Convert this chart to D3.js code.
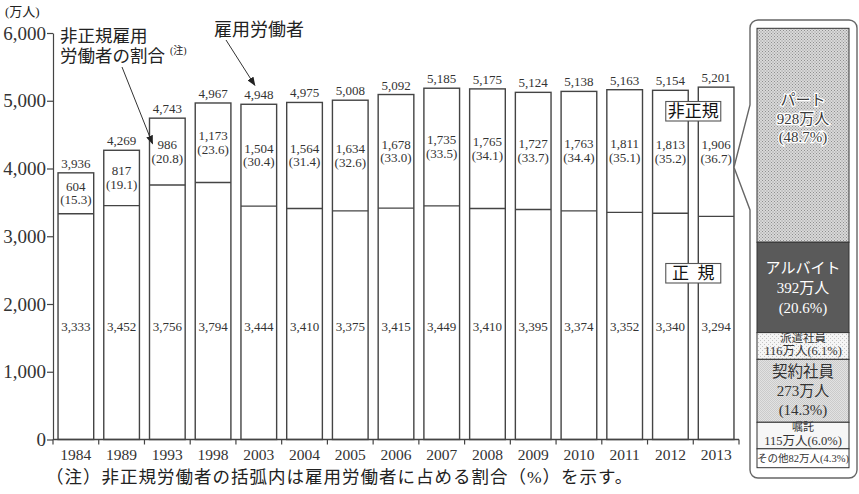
<!DOCTYPE html>
<html>
<head>
<meta charset="utf-8">
<script src="https://cdn.jsdelivr.net/npm/d3@7"></script>
<style>
  html, body { margin: 0; padding: 0; background: #fff; }
  svg { display: block; }
  .num { font-family: "Liberation Serif", "Noto Sans CJK JP", serif; fill: #333; }
  .jp { font-family: "Liberation Serif", "Noto Sans CJK JP", sans-serif; fill: #222; }
  .gothic { font-family: "Noto Sans CJK JP", sans-serif; fill: #111; }
</style>
</head>
<body>
<svg id="chart" width="859" height="494"></svg>
<script>
// 雇用労働者の推移（万人）
const years = ["1984","1989","1993","1998","2003","2004","2005","2006","2007","2008","2009","2010","2011","2012","2013"];
const regular = [3333,3452,3756,3794,3444,3410,3375,3415,3449,3410,3395,3374,3352,3340,3294];
const nonRegular = [604,817,986,1173,1504,1564,1634,1678,1735,1765,1727,1763,1811,1813,1906];
const totals = [3936,4269,4743,4967,4948,4975,5008,5092,5185,5175,5124,5138,5163,5154,5201];
const nonRegularShare = [15.3,19.1,20.8,23.6,30.4,31.4,32.6,33.0,33.5,34.1,33.7,34.4,35.1,35.2,36.7];
const yTicks = [0,1000,2000,3000,4000,5000,6000];

// 2013年 非正規雇用の内訳
const breakdownNames = ["パート","アルバイト","派遣社員","契約社員","嘱託","その他"];
const breakdownValues = [928,392,116,273,115,82];
const breakdownShare = [48.7,20.6,6.1,14.3,6.0,4.3];

const svg = d3.select("#chart");
const fmt = d3.format(",");
const SERIF = "'Liberation Serif', 'Noto Sans CJK JP', serif";

const x = d3.scaleBand().domain(years).range([53, 739]).paddingInner(0.22).paddingOuter(0.11);
const y = d3.scaleLinear().domain([0, 6000]).range([439.5, 33]);

// patterns for the breakdown column
const defs = svg.append("defs");
function dotPattern(id, size, bg, dot, dotSize) {
  const p = defs.append("pattern").attr("id", id).attr("width", size).attr("height", size)
    .attr("patternUnits", "userSpaceOnUse");
  p.append("rect").attr("width", size).attr("height", size).attr("fill", bg);
  p.append("rect").attr("width", dotSize).attr("height", dotSize).attr("fill", dot);
  p.append("rect").attr("x", size / 2).attr("y", size / 2).attr("width", dotSize).attr("height", dotSize).attr("fill", dot);
}
dotPattern("p-part", 3, "#d9d9d9", "#8f8f8f", 1);
dotPattern("p-haken", 4, "#f5f5f5", "#c4c4c4", 1);
dotPattern("p-keiyaku", 2, "#e2e2e2", "#cbcbcb", 1);
defs.append("marker").attr("id", "arrow").attr("markerUnits", "userSpaceOnUse")
  .attr("markerWidth", 9).attr("markerHeight", 7).attr("refX", 8).attr("refY", 3.5)
  .attr("orient", "auto")
  .append("path").attr("d", "M0,0 L9,3.5 L0,7 Z").attr("fill", "#222");

// unit label
svg.append("text").attr("class", "jp").attr("x", 5).attr("y", 16)
  .attr("font-size", 13).text("(万人)");

// y axis
const yAxis = svg.append("g").attr("transform", "translate(53,0)")
  .call(d3.axisLeft(y).tickValues(yTicks).tickFormat(fmt).tickSize(6).tickSizeOuter(0).tickPadding(1));
yAxis.attr("font-family", SERIF).attr("font-size", 19);
yAxis.select(".domain").attr("stroke", "#444").attr("stroke-width", 1.2);
yAxis.selectAll(".tick line").attr("stroke", "#444").attr("stroke-width", 1.2);
yAxis.selectAll(".tick text").attr("font-family", SERIF).attr("font-size", 19)
  .attr("fill", "#333").style("font-family", SERIF);

// bars
const bars = svg.append("g");
years.forEach((yr, i) => {
  const x0 = x(yr), w = x.bandwidth();
  bars.append("rect").attr("x", x0).attr("y", y(totals[i]))
    .attr("width", w).attr("height", y(0) - y(totals[i]))
    .attr("fill", "#fff").attr("stroke", "#444").attr("stroke-width", 1.4);
  bars.append("line").attr("x1", x0).attr("x2", x0 + w)
    .attr("y1", y(regular[i])).attr("y2", y(regular[i]))
    .attr("stroke", "#444").attr("stroke-width", 1.4);
});

// x axis
svg.append("line").attr("x1", 53).attr("x2", 739).attr("y1", y(0)).attr("y2", y(0))
  .attr("stroke", "#444").attr("stroke-width", 1.3);
const step = x.step();
const edges = d3.range(years.length + 1).map(k => 53 + k * step);
svg.append("g").selectAll("line").data(edges).join("line")
  .attr("x1", d => d).attr("x2", d => d).attr("y1", y(0)).attr("y2", y(0) + 5)
  .attr("stroke", "#444").attr("stroke-width", 1.2);
svg.append("g").selectAll("text").data(years).join("text")
  .attr("class", "num").attr("x", d => x(d) + x.bandwidth() / 2).attr("y", 459.5)
  .attr("text-anchor", "middle").attr("font-size", 15.5).text(d => d);

// value labels
const labels = svg.append("g");
years.forEach((yr, i) => {
  const cx = x(yr) + x.bandwidth() / 2;
  labels.append("text").attr("class", "num").attr("x", cx).attr("y", y(totals[i]) - 5)
    .attr("text-anchor", "middle").attr("font-size", 13).text(fmt(totals[i]));
  const mid = (y(totals[i]) + y(regular[i])) / 2;
  labels.append("text").attr("class", "num").attr("x", cx).attr("y", mid - 2.7)
    .attr("text-anchor", "middle").attr("font-size", 13).text(fmt(nonRegular[i]));
  labels.append("text").attr("class", "num").attr("x", cx).attr("y", mid + 11)
    .attr("text-anchor", "middle").attr("font-size", 13).text("(" + nonRegularShare[i].toFixed(1) + ")");
  labels.append("text").attr("class", "num").attr("x", cx).attr("y", 331)
    .attr("text-anchor", "middle").attr("font-size", 13).text(fmt(regular[i]));
});

// series boxes: 非正規 / 正規
function tagBox(cx, cy, txt) {
  const g = svg.append("g");
  g.append("rect").attr("x", cx - 27.5).attr("y", cy - 9.5).attr("width", 55).attr("height", 19.5)
    .attr("fill", "#fff").attr("stroke", "#555").attr("stroke-width", 1.1);
  g.append("text").attr("class", "gothic").attr("x", cx).attr("y", cy + 6)
    .attr("text-anchor", "middle").attr("font-size", 17).text(txt);
}
const lastYr = years[years.length - 1];
const boundary = x(lastYr) - x.step() * x.paddingInner() / 2;
tagBox(boundary, 111, "非正規");
tagBox(boundary, 273, "正\u2002規");

// annotations
const ann = svg.append("g");
ann.append("text").attr("class", "jp").attr("x", 60).attr("y", 41.5).attr("font-size", 17.5).text("非正規雇用");
ann.append("text").attr("class", "jp").attr("x", 60).attr("y", 61.5).attr("font-size", 17.5).text("労働者の割合");
ann.append("text").attr("class", "jp").attr("x", 170).attr("y", 54).attr("font-size", 10).text("(注)");
ann.append("text").attr("class", "jp").attr("x", 214).attr("y", 36).attr("font-size", 18).text("雇用労働者");

const i93 = years.indexOf("1993");
const mid93 = (y(totals[i93]) + y(regular[i93])) / 2;
ann.append("line").attr("x1", 122).attr("y1", 67)
  .attr("x2", x("1993") + 3).attr("y2", mid93 - 8)
  .attr("stroke", "#333").attr("stroke-width", 1).attr("marker-end", "url(#arrow)");
const i03 = years.indexOf("2003");
ann.append("line").attr("x1", 226).attr("y1", 40)
  .attr("x2", x("2003") + x.bandwidth() / 2 - 4).attr("y2", y(totals[i03]) - 19)
  .attr("stroke", "#333").attr("stroke-width", 1).attr("marker-end", "url(#arrow)");

// breakdown panel for 2013
const iLast = years.length - 1;
const px0 = 750, px1 = 857, py0 = 20, py1 = 478, r = 8;
const tipX = x(lastYr) + x.bandwidth();
const tipY = y(regular[iLast] + nonRegular[iLast] * 0.38);
const frame = d3.path();
frame.moveTo(px0 + r, py0);
frame.lineTo(px1 - r, py0);
frame.arcTo(px1, py0, px1, py0 + r, r);
frame.lineTo(px1, py1 - r);
frame.arcTo(px1, py1, px1 - r, py1, r);
frame.lineTo(px0 + r, py1);
frame.arcTo(px0, py1, px0, py1 - r, r);
frame.lineTo(px0, 210);
frame.lineTo(tipX, tipY);
frame.lineTo(px0, 105);
frame.lineTo(px0, py0 + r);
frame.arcTo(px0, py0, px0 + r, py0, r);
frame.closePath();
svg.append("path").attr("d", frame.toString()).attr("fill", "#fff")
  .attr("stroke", "#666").attr("stroke-width", 1.4);

const total2013 = d3.sum(breakdownValues);
const yb = d3.scaleLinear().domain([0, total2013]).range([467.7, 28.3]);
const colX0 = 757, colW = 92;
const fills = ["url(#p-part)", "#5a5a5a", "url(#p-haken)", "url(#p-keiyaku)", "#f6f6f6", "#fff"];
const starts = breakdownValues.map((v, k) => d3.sum(breakdownValues.slice(0, k)));
const col = svg.append("g");
breakdownValues.forEach((v, k) => {
  const top = yb(total2013 - starts[k]);
  const bot = yb(total2013 - starts[k] - v);
  col.append("rect").attr("x", colX0).attr("y", top).attr("width", colW).attr("height", bot - top)
    .attr("fill", fills[k]).attr("stroke", "#333").attr("stroke-width", 1);
});

// text lines for each breakdown segment: [text, font size]
const pct = s => "(" + s.toFixed(1) + "%)";
const man = v => v + "万人";
const segLines = [
  [[breakdownNames[0], 15], [man(breakdownValues[0]), 15], [pct(breakdownShare[0]), 15]],
  [[breakdownNames[1], 15], [man(breakdownValues[1]), 15], [pct(breakdownShare[1]), 15]],
  [[breakdownNames[2], 11.5], [man(breakdownValues[2]) + pct(breakdownShare[2]), 12.5]],
  [[breakdownNames[3], 15.5], [man(breakdownValues[3]), 15], [pct(breakdownShare[3]), 15]],
  [[breakdownNames[4], 11], [man(breakdownValues[4]) + pct(breakdownShare[4]), 12.5]],
  [[breakdownNames[5] + man(breakdownValues[5]) + pct(breakdownShare[5]), 10.5]]
];
const lineGap = [18.5, 20, 13, 19, 13, 0];
const shift = [-17, 0, -1.5, 0, -2, 0.3];
const textFill = ["#3a3a3a", "#fff", "#333", "#333", "#333", "#333"];
breakdownValues.forEach((v, k) => {
  const top = yb(total2013 - starts[k]);
  const bot = yb(total2013 - starts[k] - v);
  const mid = (top + bot) / 2 + shift[k];
  const lines = segLines[k];
  const n = lines.length;
  lines.forEach(([txt, fs], j) => {
    const cy = mid + (j - (n - 1) / 2) * lineGap[k];
    const t = col.append("text").attr("class", "jp").attr("x", colX0 + colW / 2).attr("y", cy + fs * 0.36)
      .attr("text-anchor", "middle").attr("font-size", fs).attr("fill", textFill[k])
      .style("fill", textFill[k]).text(txt);
    if (k === 0) t.attr("stroke", "#fff").attr("stroke-width", 2.5).attr("paint-order", "stroke");
  });
});

// footnote
svg.append("text").attr("class", "jp").attr("x", 46).attr("y", 483)
  .attr("font-size", 17.5).attr("letter-spacing", 1)
  .text("（注）非正規労働者の括弧内は雇用労働者に占める割合（%）を示す。");
</script>
</body>
</html>
